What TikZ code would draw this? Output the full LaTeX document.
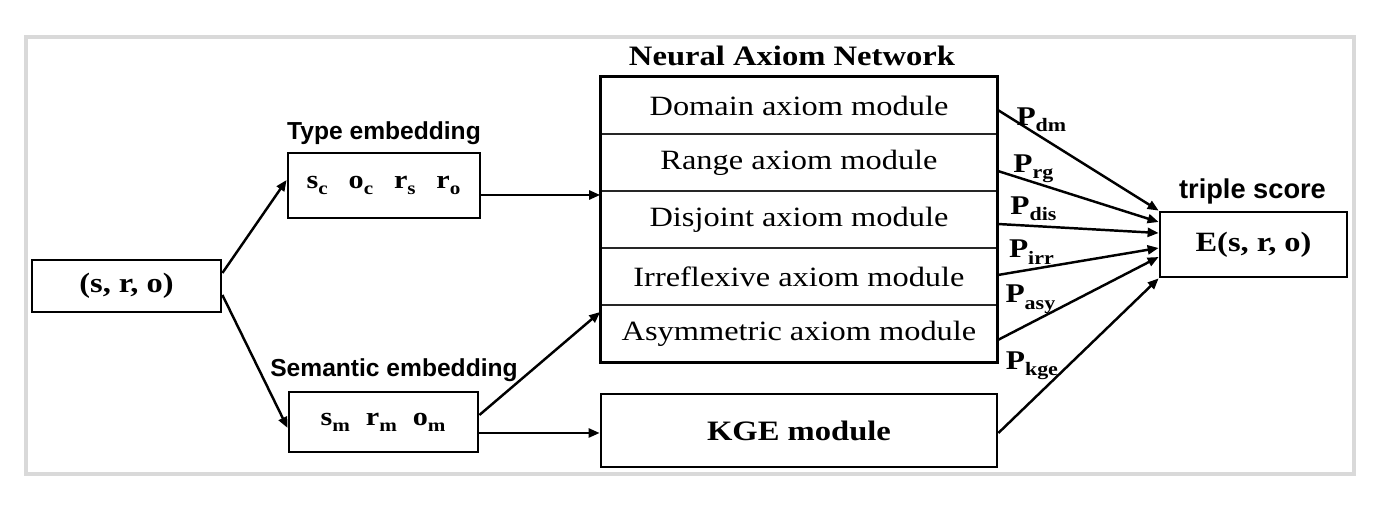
\documentclass[tikz,border=0pt]{standalone}
\usepackage{fontspec}
\setmainfont{Liberation Serif}[FakeStretch=1.16]
\newfontfamily\headfont{Liberation Sans}
\newcommand{\lowsub}[1]{\textsubscript{\raisebox{-0.3ex}{#1}}}
\usetikzlibrary{arrows.meta}

\begin{document}
\begin{tikzpicture}[x=0.02cm, y=-0.02cm,
		>={Triangle[length=0.22cm,width=0.18cm]},
		box/.style={draw, line width=1.6pt, inner sep=0pt},
		axiom/.style={draw, black!85, text=black, line width=1pt, inner sep=0pt, minimum width=7.92cm, minimum height=1.14cm, font=\fontsize{15.9}{19}\selectfont},
		head/.style={font=\headfont\bfseries\fontsize{14}{16}\selectfont},
		emb/.style={font=\bfseries\fontsize{14.8}{18}\selectfont},
		prob/.style={font=\bfseries\fontsize{15.4}{18}\selectfont, inner sep=0pt},
		flow/.style={->, line width=1.4pt}]
	\useasboundingbox (0,0) rectangle (1390,516);
	\draw[gray!30, line width=2pt] (26,37) rectangle (1354,474);
	% inputs
	\node[box, minimum width=3.78cm, minimum height=1.04cm, font=\bfseries\fontsize{15.9}{19}\selectfont] (sro) at (126.5,286) {(s, r, o)};
	\node[box, emb, minimum width=3.84cm, minimum height=1.3cm] (type) at (384,185.5) {s\lowsub{c}\hspace{0.4cm}o\lowsub{c}\hspace{0.4cm}r\lowsub{s}\hspace{0.4cm}r\lowsub{o}};
	\node[box, emb, minimum width=3.78cm, minimum height=1.2cm] (sem) at (383.5,422) {s\lowsub{m}\hspace{0.3cm}r\lowsub{m}\hspace{0.3cm}o\lowsub{m}};
	\node[head] (typelbl) at (384,133) {Type embedding};
	\node[head] (semlbl) at (394,370) {Semantic embedding};
	% neural axiom network
	\node[font=\bfseries\fontsize{16}{19}\selectfont] (nantitle) at (792,55.5) {Neural Axiom Network};
	\node[axiom] (dm) at (799,105.5) {Domain axiom module};
	\node[axiom] (rg) at (799,162.5) {Range axiom module};
	\node[axiom] (dis) at (799,219.5) {Disjoint axiom module};
	\node[axiom] (irr) at (799,276.5) {Irreflexive axiom module};
	\node[axiom] (asy) at (799,333.5) {Asymmetric axiom module};
	\draw[line width=1.6pt] (dm.north west) rectangle (asy.south east);
	\node[box, minimum width=7.92cm, minimum height=1.46cm, font=\bfseries\fontsize{16}{19}\selectfont] (kge) at (799,430.5) {KGE module};
	% output
	\node[box, minimum width=3.74cm, minimum height=1.3cm, font=\bfseries\fontsize{15.9}{19}\selectfont] (E) at (1253.5,244.5) {E(s, r, o)};
	\node[head, font=\headfont\bfseries\fontsize{15.5}{18}\selectfont] (scorelbl) at (1252.5,191) {triple score};
	% connectors
	\draw[flow] ([yshift=0.26cm]sro.east) -- ([yshift=0.11cm]type.west);
	\draw[flow] ([yshift=-0.18cm]sro.east) -- ([yshift=-0.12cm]sem.west);
	\coordinate (tout) at ([yshift=-0.19cm]type.east);
	\draw[flow] (tout) -- (tout -| dis.west);
	\draw[flow] ([yshift=0.14cm]sem.east) -- ([yshift=0.43cm]asy.west);
	\coordinate (sout) at ([yshift=-0.22cm]sem.east);
	\draw[flow] (sout) -- (sout -| kge.west);
	\draw[flow] ([yshift=-0.09cm]dm.east) to node[prob, at start, xshift=0.88cm, yshift=-0.2cm]{P\lowsub{dm}} (E.north west);
	\draw[flow] ([yshift=-0.17cm]rg.east) to node[prob, at start, xshift=0.72cm, yshift=0.04cm]{P\lowsub{rg}} ([yshift=0.45cm]E.west);
	\draw[flow] ([yshift=-0.09cm]dis.east) to node[prob, at start, xshift=0.72cm, yshift=0.3cm]{P\lowsub{dis}} ([yshift=0.23cm]E.west);
	\draw[flow] ([yshift=0.03cm]irr.east) to node[prob, at start, xshift=0.68cm, yshift=0.46cm]{P\lowsub{irr}} ([yshift=-0.07cm]E.west);
	\draw[flow] ([yshift=-0.13cm]asy.east) to node[prob, at start, xshift=0.66cm, yshift=0.82cm]{P\lowsub{asy}} ([yshift=-0.25cm]E.west);
	\draw[flow] ([yshift=-0.05cm]kge.east) to node[prob, at start, xshift=0.68cm, yshift=1.34cm]{P\lowsub{kge}} (E.south west);
\end{tikzpicture}
\end{document}
